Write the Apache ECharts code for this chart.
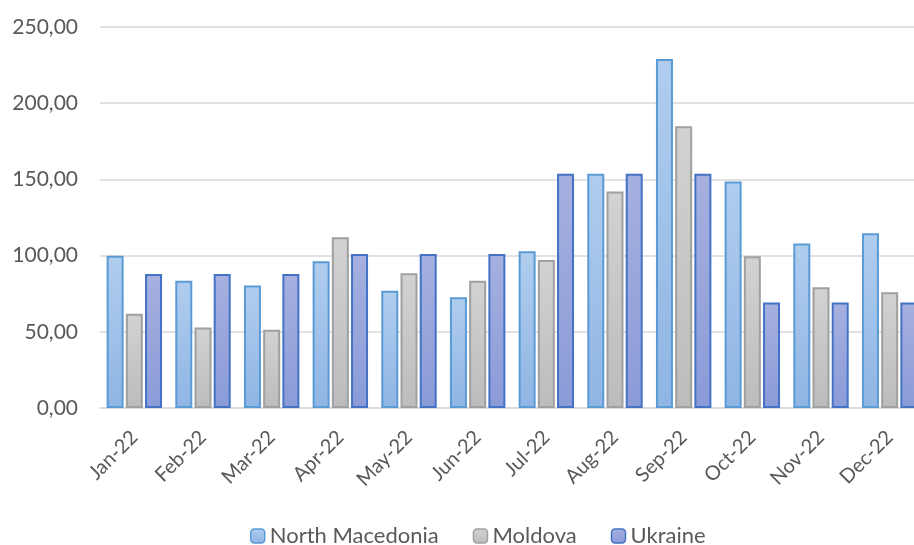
<!DOCTYPE html>
<html>
<head>
<meta charset="utf-8">
<script src="https://cdn.jsdelivr.net/npm/echarts@6/dist/echarts.min.js"></script>
<style>
  html, body { margin: 0; padding: 0; background: #fff; overflow: hidden; }
  /* the plot runs a little past the right edge of the window */
  #chart { width: 924px; height: 545px; }
</style>
</head>
<body>
<div id="chart"></div>
<script>
// Monthly values per country
const months = ['Jan-22', 'Feb-22', 'Mar-22', 'Apr-22', 'May-22', 'Jun-22',
                'Jul-22', 'Aug-22', 'Sep-22', 'Oct-22', 'Nov-22', 'Dec-22'];
const northMacedonia = [99.9, 83.5, 80.3, 96.3, 77.0, 72.6, 102.8, 153.7, 229.0, 148.7, 108.0, 114.7];
const moldova        = [61.8, 52.8, 51.3, 112.0, 88.4, 83.5, 97.1, 142.0, 184.9, 99.5, 79.2, 75.9];
const ukraine        = [88.0, 88.0, 88.0, 101.0, 101.0, 101.0, 153.7, 153.7, 153.7, 69.3, 69.3, 69.3];
const seriesNames = ['North Macedonia', 'Moldova', 'Ukraine'];

const FONT = 'Lato, "Open Sans", sans-serif';
const TEXT = '#595959';

function grad(top, bottom) {
  return new echarts.graphic.LinearGradient(0, 0, 0, 1, [
    { offset: 0, color: top },
    { offset: 1, color: bottom }
  ]);
}

const styles = [
  { fill: grad('#b0cdee', '#8fb5e4'), border: '#5b9bd5' },
  { fill: grad('#d2d2d2', '#bcbcbc'), border: '#a0a0a0' },
  { fill: grad('#a6b0e0', '#8a9bd8'), border: '#4472c4' }
];
const values = [northMacedonia, moldova, ukraine];

const chart = echarts.init(document.getElementById('chart'), null, { renderer: 'canvas' });
chart.setOption({
  animation: false,
  backgroundColor: '#ffffff',
  grid: { left: 100, right: 0, top: 27, bottom: 137, containLabel: false },
  legend: {
    top: 525,
    left: 250,
    padding: 0,
    itemWidth: 14,
    itemHeight: 14,
    itemGap: 34,
    textStyle: { color: TEXT, fontFamily: FONT, fontSize: 22 },
    data: seriesNames.map((n, i) => ({
      name: n,
      itemStyle: { color: styles[i].fill, borderColor: styles[i].border, borderWidth: 1.5 }
    }))
  },
  xAxis: {
    type: 'category',
    data: months,
    axisLine: { lineStyle: { color: '#d9d9d9', width: 1.5 } },
    axisTick: { length: 6, lineStyle: { color: '#d9d9d9', width: 1.5 } },
    axisLabel: {
      rotate: 45,
      margin: 26,
      color: TEXT,
      fontFamily: FONT,
      fontSize: 20,
      interval: 0
    }
  },
  yAxis: {
    type: 'value',
    min: 0,
    max: 250,
    interval: 50,
    axisLine: { show: false },
    axisTick: { show: false },
    splitLine: { lineStyle: { color: '#d9d9d9', width: 1.5 } },
    axisLabel: {
      margin: 22,
      color: TEXT,
      fontFamily: FONT,
      fontSize: 21,
      formatter: v => v.toFixed(2).replace('.', ',')
    }
  },
  series: seriesNames.map((n, i) => ({
    name: n,
    type: 'bar',
    data: values[i],
    barWidth: 17,
    barGap: '13%',
    itemStyle: {
      color: styles[i].fill,
      borderColor: styles[i].border,
      borderWidth: 2
    }
  }))
});
</script>
</body>
</html>
